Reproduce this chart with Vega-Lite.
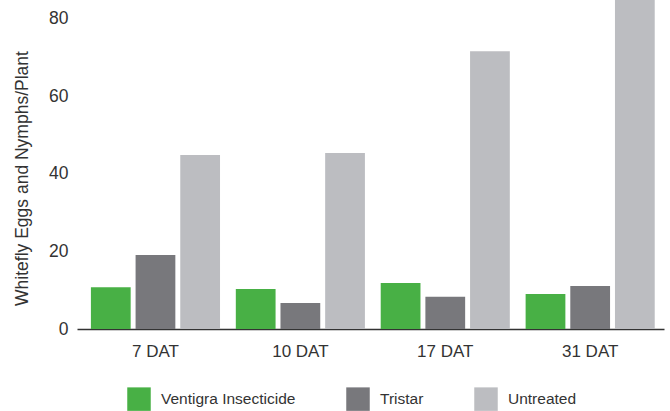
{
  "$schema": "https://vega.github.io/schema/vega-lite/v6.json",
  "width": 587,
  "height": 329,
  "autosize": {"type": "none"},
  "padding": {"left": 77, "top": 0, "right": 6, "bottom": 82},
  "background": "white",
  "config": {
    "view": {"stroke": null},
    "font": "Liberation Sans",
    "axis": {"labelFont": "Liberation Sans", "titleFont": "Liberation Sans", "labelColor": "#333333", "titleColor": "#333333"},
    "legend": {"labelFont": "Liberation Sans", "labelColor": "#333333"}
  },
  "data": {
    "values": [
      {"time": "7 DAT", "treatment": "Ventigra Insecticide", "value": 10.8},
      {"time": "7 DAT", "treatment": "Tristar", "value": 19.1},
      {"time": "7 DAT", "treatment": "Untreated", "value": 44.9},
      {"time": "10 DAT", "treatment": "Ventigra Insecticide", "value": 10.3},
      {"time": "10 DAT", "treatment": "Tristar", "value": 6.7},
      {"time": "10 DAT", "treatment": "Untreated", "value": 45.4},
      {"time": "17 DAT", "treatment": "Ventigra Insecticide", "value": 11.9},
      {"time": "17 DAT", "treatment": "Tristar", "value": 8.3},
      {"time": "17 DAT", "treatment": "Untreated", "value": 71.7},
      {"time": "31 DAT", "treatment": "Ventigra Insecticide", "value": 9.0},
      {"time": "31 DAT", "treatment": "Tristar", "value": 11.1},
      {"time": "31 DAT", "treatment": "Untreated", "value": 88.0}
    ]
  },
  "mark": {"type": "bar", "clip": true},
  "encoding": {
    "x": {
      "field": "time",
      "type": "nominal",
      "sort": ["7 DAT", "10 DAT", "17 DAT", "31 DAT"],
      "scale": {"paddingInner": 0.109, "paddingOuter": 0.08, "align": 0.6},
      "axis": {
        "title": null,
        "labelAngle": 0,
        "labelFontSize": 17,
        "labelPadding": 14,
        "ticks": false,
        "domainColor": "#333333",
        "domainWidth": 1.5
      }
    },
    "xOffset": {
      "field": "treatment",
      "type": "nominal",
      "sort": ["Ventigra Insecticide", "Tristar", "Untreated"],
      "scale": {"paddingInner": 0.11, "paddingOuter": 0}
    },
    "y": {
      "field": "value",
      "type": "quantitative",
      "scale": {"domain": [0, 84.9], "nice": false},
      "axis": {
        "title": "Whitefly Eggs and Nymphs/Plant",
        "titleFontSize": 17.5,
        "titleFontWeight": "normal",
        "titleAngle": 270,
        "titleBaseline": "alphabetic",
        "titleX": -50,
        "titleY": 178,
        "titleAlign": "center",
        "values": [0, 20, 40, 60, 80],
        "labelFontSize": 17.5,
        "labelPadding": 9,
        "ticks": false,
        "domain": false,
        "grid": false
      }
    },
    "color": {
      "field": "treatment",
      "type": "nominal",
      "sort": ["Ventigra Insecticide", "Tristar", "Untreated"],
      "scale": {
        "domain": ["Ventigra Insecticide", "Tristar", "Untreated"],
        "range": ["#48b045", "#78787c", "#bcbdc1"]
      },
      "legend": {
        "title": null,
        "orient": "none",
        "direction": "horizontal",
        "legendX": 50,
        "legendY": 387,
        "padding": 0,
        "symbolType": "square",
        "symbolSize": 552,
        "symbolStrokeWidth": 0,
        "symbolOpacity": 1,
        "labelFontSize": 15.5,
        "labelOffset": 10,
        "columnPadding": 50
      }
    }
  }
}
